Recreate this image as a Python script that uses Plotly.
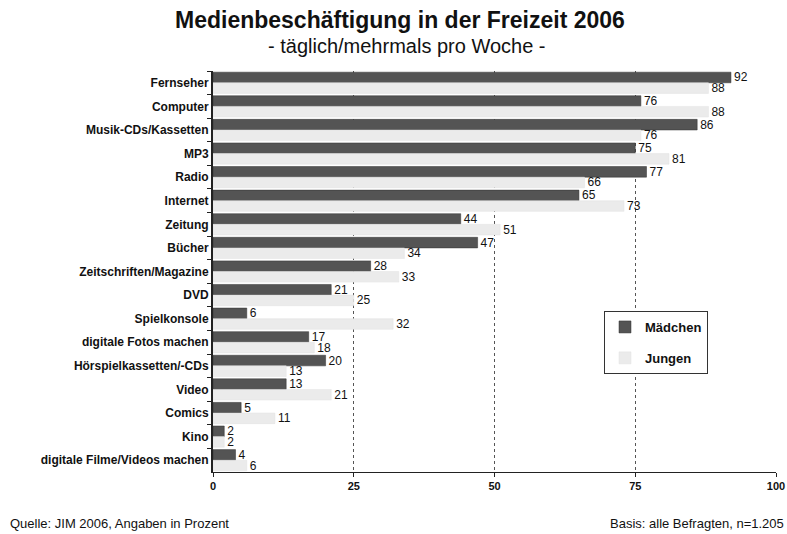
import plotly.graph_objects as go

# --- data ---
kategorien = [
    "Fernseher", "Computer", "Musik-CDs/Kassetten", "MP3", "Radio", "Internet",
    "Zeitung", "Bücher", "Zeitschriften/Magazine", "DVD", "Spielkonsole",
    "digitale Fotos machen", "Hörspielkassetten/-CDs", "Video", "Comics", "Kino",
    "digitale Filme/Videos machen",
]
maedchen = [92, 76, 86, 75, 77, 65, 44, 47, 28, 21, 6, 17, 20, 13, 5, 2, 4]
jungen = [88, 88, 76, 81, 66, 73, 51, 34, 33, 25, 32, 18, 13, 21, 11, 2, 6]
x_ticks = [0, 25, 50, 75, 100]

FONT = "Liberation Sans, Arial, sans-serif"

W, H = 787, 534
L, R, T, B = 213, 11, 71, 62
PW, PH = W - L - R, H - T - B


def px_x(x):
    return (x - L) / PW


def px_y(y):
    return (H - B - y) / PH


fig = go.Figure()

fig.add_trace(go.Bar(
    y=kategorien, x=maedchen, orientation="h", name="Mädchen",
    legendgroup="m",
    marker=dict(color="#545454", line=dict(color="#333333", width=0.5)),
    text=maedchen, textposition="outside", cliponaxis=False, constraintext="none",
    textfont=dict(size=12, color="#111111", family=FONT),
))
fig.add_trace(go.Bar(
    y=kategorien, x=jungen, orientation="h", name="Jungen",
    legendgroup="j",
    marker=dict(color="#ebebeb", line=dict(color="#e2e2e2", width=0.5)),
    text=jungen, textposition="outside", cliponaxis=False, constraintext="none",
    textfont=dict(size=12, color="#111111", family=FONT),
))

fig.update_layout(
    width=W, height=H,
    margin=dict(l=L, r=R, t=T, b=B, autoexpand=False),
    paper_bgcolor="white", plot_bgcolor="white",
    font=dict(family=FONT, color="#111111"),
    barmode="group", bargap=0.1, bargroupgap=0.0,
    legend=dict(
        x=px_x(604), y=px_y(311), xanchor="left", yanchor="top",
        bordercolor="#333333", borderwidth=1, bgcolor="white",
        font=dict(size=13, family=FONT, color="#111111", weight="bold"),
        traceorder="grouped", tracegroupgap=11,
        itemwidth=30,
    ),
    annotations=[
        dict(text="<b>Medienbeschäftigung in der Freizeit 2006</b>",
             xref="paper", yref="paper", x=px_x(400), y=px_y(20),
             xanchor="center", yanchor="middle", showarrow=False,
             font=dict(size=23, family=FONT, color="#111111")),
        dict(text="- täglich/mehrmals pro Woche -",
             xref="paper", yref="paper", x=px_x(407), y=px_y(46),
             xanchor="center", yanchor="middle", showarrow=False,
             font=dict(size=20, family=FONT, color="#111111")),
        dict(text="Quelle: JIM 2006, Angaben in Prozent", xref="paper", yref="paper",
             x=px_x(8), y=px_y(523), xanchor="left", yanchor="middle",
             showarrow=False, font=dict(size=13, family=FONT)),
        dict(text="Basis: alle Befragten, n=1.205", xref="paper", yref="paper",
             x=px_x(786), y=px_y(523), xanchor="right", yanchor="middle",
             showarrow=False, font=dict(size=13, family=FONT)),
    ],
)

fig.update_xaxes(
    range=[0, 100], tickvals=x_ticks, ticktext=[str(v) for v in x_ticks],
    showgrid=True, gridcolor="#555555", griddash="dot", gridwidth=1,
    showline=True, linecolor="#222222", linewidth=1,
    ticks="outside", ticklen=4, tickcolor="#222222",
    tickfont=dict(size=11, family=FONT, weight="bold"),
    zeroline=False, fixedrange=True, automargin=False,
)
fig.update_yaxes(
    autorange="reversed",
    showline=True, linecolor="#222222", linewidth=2,
    ticks="outside", ticklen=4, tickcolor="#222222", tickson="boundaries",
    tickfont=dict(size=12, family=FONT, weight="bold"),
    showgrid=False, fixedrange=True, automargin=False,
)

# drop the default 8px page margin so the figure fills the window exactly
fig.write_html(
    "out.html",
    config={"displayModeBar": False},
    post_script="document.body.style.margin='0';document.body.style.overflow='hidden';",
)
